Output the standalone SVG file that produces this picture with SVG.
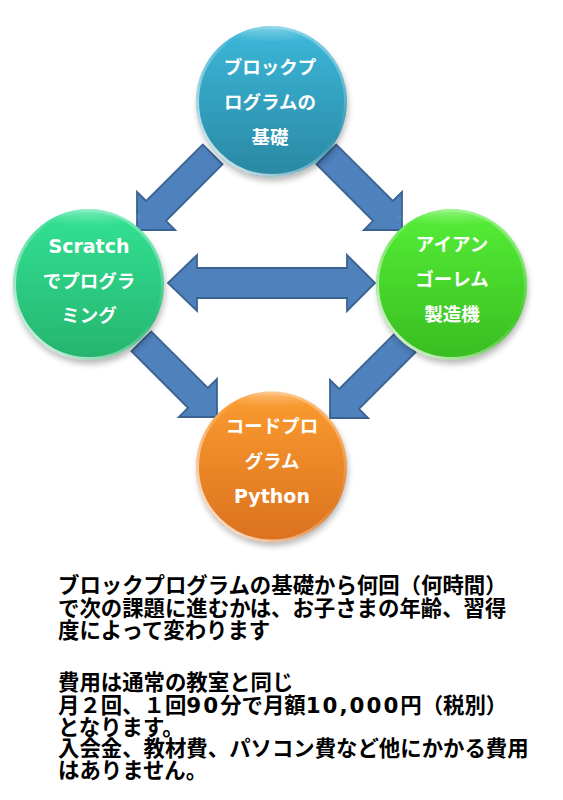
<svg xmlns="http://www.w3.org/2000/svg" width="563" height="800" viewBox="0 0 563 800">
<style>
.arr{fill:#4F81BD;stroke:#3A6290;stroke-width:1.8;stroke-linejoin:miter}
.nt{font-family:"DejaVu Sans","Noto Sans CJK JP",sans-serif;font-weight:bold;font-size:18.5px;fill:#fff;text-anchor:middle}
.lat{font-family:"DejaVu Sans","Noto Sans CJK JP",sans-serif;font-size:19px}
.bt{font-family:"Noto Sans CJK JP",sans-serif;font-weight:bold;font-size:21.4px;fill:#000}
.dg{font-family:"DejaVu Sans",sans-serif;letter-spacing:2px}
.rim{fill:none;stroke:url(#rimG);stroke-width:3}
.shd{fill:#000;opacity:0.28;filter:url(#blur)}
.gls{fill:url(#glossG)}
</style>
<defs>
<filter id="blur" x="-20%" y="-20%" width="140%" height="140%"><feGaussianBlur stdDeviation="3"/></filter>
<linearGradient id="gTeal" x1="0" y1="0" x2="0" y2="1"><stop offset="0" stop-color="#3CB8DA"/><stop offset="1" stop-color="#2A88A3"/></linearGradient>
<linearGradient id="gGreen1" x1="0" y1="0" x2="0" y2="1"><stop offset="0" stop-color="#33E294"/><stop offset="1" stop-color="#25B46E"/></linearGradient>
<linearGradient id="gGreen2" x1="0" y1="0" x2="0" y2="1"><stop offset="0" stop-color="#55EE37"/><stop offset="1" stop-color="#39BD20"/></linearGradient>
<linearGradient id="gOrange" x1="0" y1="0" x2="0" y2="1"><stop offset="0" stop-color="#FB9C30"/><stop offset="1" stop-color="#DB711E"/></linearGradient>
<linearGradient id="rimG" x1="0" y1="1" x2="1" y2="0"><stop offset="0" stop-color="#fff" stop-opacity="0.95"/><stop offset="0.45" stop-color="#fff" stop-opacity="0.25"/><stop offset="0.6" stop-color="#fff" stop-opacity="0"/><stop offset="0.9" stop-color="#fff" stop-opacity="0.35"/></linearGradient>
<radialGradient id="glossG" cx="0.5" cy="0" r="0.6"><stop offset="0" stop-color="#fff" stop-opacity="0.35"/><stop offset="1" stop-color="#fff" stop-opacity="0"/></radialGradient>
<path id="dArr" d="M0,0 L-27,-27 L-27,-14 L-107,-14 L-107,14 L-27,14 L-27,27 Z"/>
</defs>
<rect width="563" height="800" fill="#fff"/>
<g id="connectors">
<use href="#dArr" class="arr" transform="translate(137,230) rotate(135)"/>
<use href="#dArr" class="arr" transform="translate(402,230) rotate(45)"/>
<use href="#dArr" class="arr" transform="translate(217,417) rotate(45)"/>
<use href="#dArr" class="arr" transform="translate(330,418) rotate(135)"/>
<path class="arr" d="M168,283 L197,255 L197,268 L347,268 L347,255 L375,283 L347,311 L347,298 L197,298 L197,311 Z"/>
</g>
<g id="node-block">
<circle class="shd" cx="273" cy="106" r="75"/>
<circle cx="271.5" cy="101.5" r="75.5" fill="url(#gTeal)"/>
<circle cx="271.5" cy="101.5" r="74" class="rim"/>
<ellipse cx="271.5" cy="40" rx="60" ry="14" class="gls"/>
<text class="nt" x="270" y="74">ブロックプ</text>
<text class="nt" x="270" y="109">ログラムの</text>
<text class="nt" x="270" y="144">基礎</text>
</g>
<g id="node-scratch">
<circle class="shd" cx="90" cy="289" r="75"/>
<circle cx="88.5" cy="284.5" r="75.5" fill="url(#gGreen1)"/>
<circle cx="88.5" cy="284.5" r="74" class="rim"/>
<ellipse cx="88.5" cy="223" rx="60" ry="14" class="gls"/>
<text class="nt" x="89" y="253"><tspan class="lat">Scratch</tspan></text>
<text class="nt" x="89" y="288">でプログラ</text>
<text class="nt" x="89" y="322">ミング</text>
</g>
<g id="node-golem">
<circle class="shd" cx="453" cy="289" r="75"/>
<circle cx="451.5" cy="284.5" r="75.5" fill="url(#gGreen2)"/>
<circle cx="451.5" cy="284.5" r="74" class="rim"/>
<ellipse cx="451.5" cy="223" rx="60" ry="14" class="gls"/>
<text class="nt" x="452" y="251">アイアン</text>
<text class="nt" x="452" y="286">ゴーレム</text>
<text class="nt" x="452" y="321">製造機</text>
</g>
<g id="node-python">
<circle class="shd" cx="273" cy="471" r="75"/>
<circle cx="271.5" cy="467" r="75.5" fill="url(#gOrange)"/>
<circle cx="271.5" cy="467" r="74" class="rim"/>
<ellipse cx="271.5" cy="405" rx="60" ry="14" class="gls"/>
<text class="nt" x="272" y="433">コードプロ</text>
<text class="nt" x="272" y="468">グラム</text>
<text class="nt" x="272" y="503"><tspan class="lat">Python</tspan></text>
</g>
<g id="description">
<text class="bt"><tspan x="58" y="593">ブロックプログラムの基礎から何回（何時間）</tspan><tspan x="58" y="616">で次の課題に進むかは、お子さまの年齢、習得</tspan><tspan x="58" y="638">度によって変わります</tspan></text>
<text class="bt"><tspan x="58" y="690">費用は通常の教室と同じ</tspan><tspan x="58" y="713">月２回、１回<tspan class="dg">90</tspan>分で月額<tspan class="dg">10,000</tspan>円（税別）</tspan><tspan x="58" y="735">となります。</tspan><tspan x="58" y="756">入会金、教材費、パソコン費など他にかかる費用</tspan><tspan x="58" y="778">はありません。</tspan></text>
</g>
</svg>
